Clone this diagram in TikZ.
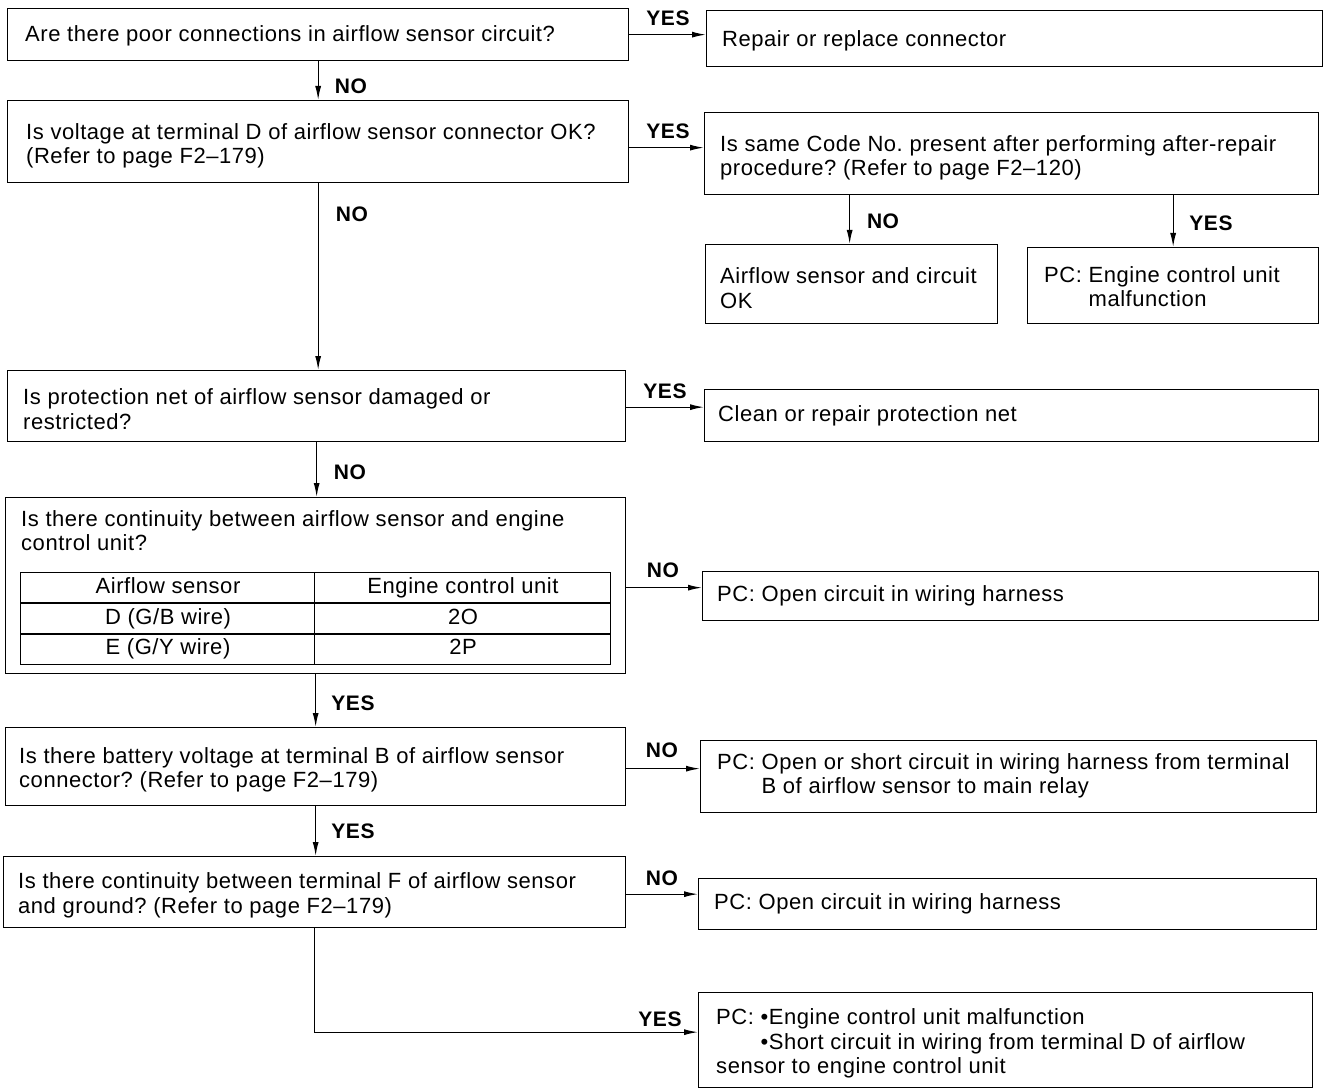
\documentclass[tikz,border=0pt]{standalone}
\usepackage{fontspec}
\setmainfont{Liberation Sans}[LetterSpace=2.5]
\usetikzlibrary{arrows.meta}

\begin{document}
\frenchspacing
\begin{tikzpicture}[x=1pt,y=-1pt,
  box/.style={draw, line width=1.3pt, inner sep=0pt, anchor=north west},
  txt/.style={anchor=west, align=left, inner sep=0pt, font=\fontsize{22}{24.5}\selectfont},
  cell/.style={inner sep=0pt, text height=16pt, text depth=5pt, font=\fontsize{22}{24}\selectfont},
  lab/.style={inner sep=0pt, font=\fontsize{21}{24}\selectfont\bfseries},
  arr/.style={line width=1.3pt, -{Latex[length=14pt,width=6pt]}},
  wire/.style={line width=1.3pt}]

\useasboundingbox (0,0) rectangle (1327,1091);

% ---- left column: questions ----
\node[box, minimum width=621pt, minimum height=52pt] (b1) at (7,8) {};
\node[box, minimum width=621pt, minimum height=82pt] (b2) at (7,100) {};
\node[box, minimum width=618pt, minimum height=71pt] (b3) at (7,370) {};
\node[box, minimum width=620pt, minimum height=176pt] (b4) at (5,497) {};
\node[box, minimum width=620pt, minimum height=78pt] (b5) at (5,727) {};
\node[box, minimum width=622pt, minimum height=71pt] (b6) at (3,856) {};

% ---- right column: actions and results ----
\node[box, minimum width=616pt, minimum height=56pt] (r1) at (706,10) {};
\node[box, minimum width=614pt, minimum height=82pt] (r2) at (704,112) {};
\node[box, minimum width=292pt, minimum height=79pt] (ok) at (705,244) {};
\node[box, minimum width=291pt, minimum height=76pt] (pc1) at (1027,247) {};
\node[box, minimum width=614pt, minimum height=52pt] (r3) at (704,389) {};
\node[box, minimum width=616pt, minimum height=49pt] (r4) at (702,571) {};
\node[box, minimum width=616pt, minimum height=72pt] (r5) at (700,740) {};
\node[box, minimum width=618pt, minimum height=51pt] (r6) at (698,878) {};
\node[box, minimum width=614pt, minimum height=95pt] (r7) at (698,992) {};

% ---- texts ----
\node[txt] (t1) at ([xshift=18pt,yshift=-1pt]b1.west) {Are there poor connections in airflow sensor circuit?};
\node[txt] (t2) at ([xshift=19pt,yshift=-4pt]b2.west) {Is voltage at terminal D of airflow sensor connector OK?\\(Refer to page F2–179)};
\node[txt] (t3) at ([xshift=16pt,yshift=-3pt]b3.west) {Is protection net of airflow sensor damaged or\\restricted?};
\node[txt, anchor=north west] (t4) at ([xshift=16pt,yshift=-13pt]b4.north west) {Is there continuity between airflow sensor and engine\\control unit?};
\node[txt] (t5) at ([xshift=14pt,yshift=-3pt]b5.west) {Is there battery voltage at terminal B of airflow sensor\\connector? (Refer to page F2–179)};
\node[txt] (t6) at ([xshift=15pt,yshift=-3pt]b6.west) {Is there continuity between terminal F of airflow sensor\\and ground? (Refer to page F2–179)};

\node[txt] (tr1) at ([xshift=16pt,yshift=-2pt]r1.west) {Repair or replace connector};
\node[txt] (tr2) at ([xshift=16pt,yshift=-4pt]r2.west) {Is same Code No. present after performing after-repair\\procedure? (Refer to page F2–120)};
\node[txt] (tok) at ([xshift=15pt,yshift=-4pt]ok.west) {Airflow sensor and circuit\\OK};
\node[txt] (tpc1) at ([xshift=17pt,yshift=-4pt]pc1.west) {\begin{tabular}{@{}l@{ }l@{}}PC:&Engine control unit\\&malfunction\end{tabular}};
\node[txt] (tr3) at ([xshift=14pt]r3.west) {Clean or repair protection net};
\node[txt] (tr4) at ([xshift=15pt]r4.west) {PC: Open circuit in wiring harness};
\node[txt] (tr5) at ([xshift=17pt]r5.west) {\begin{tabular}{@{}l@{ }l@{}}PC:&Open or short circuit in wiring harness from terminal\\&B of airflow sensor to main relay\end{tabular}};
\node[txt] (tr6) at ([xshift=16pt]r6.west) {PC: Open circuit in wiring harness};
\node[txt] (tr7) at ([xshift=18pt,yshift=-4pt]r7.west) {\begin{tabular}{@{}l@{ }l@{}}PC:&•Engine control unit malfunction\\&•Short circuit in wiring from terminal D of airflow\\\multicolumn{2}{@{}l@{}}{sensor to engine control unit}\end{tabular}};

% ---- continuity table inside the fourth question ----
\node[draw, line width=1.1pt, inner sep=0pt, anchor=north west, minimum width=590pt, minimum height=92pt] (tab) at (20,572) {};
\draw[line width=1.1pt] ([yshift=-31pt]tab.north west) -- ([yshift=-31pt]tab.north east);
\draw[line width=1.1pt] ([yshift=-62pt]tab.north west) -- ([yshift=-62pt]tab.north east);
\draw[line width=1.1pt] ([xshift=-1pt]tab.north) -- ([xshift=-1pt]tab.south);
\node[cell] (c11) at (168,588) {Airflow sensor};
\node[cell] (c12) at (463,588) {Engine control unit};
\node[cell] (c21) at (168,619) {D (G/B wire)};
\node[cell] (c22) at (463,619) {2O};
\node[cell] (c31) at (168,649) {E (G/Y wire)};
\node[cell] (c32) at (463,649) {2P};

% ---- connectors ----
\draw[arr] (b1.east) -- (b1.east -| r1.west);
\draw[arr] ([yshift=-6pt]b2.east) -- ([yshift=-6pt]b2.east -| r2.west);
\draw[arr] ([yshift=-1pt]b3.east) -- ([yshift=-1pt]b3.east -| r3.west);
\draw[arr] ([yshift=-2pt]b4.east) -- ([yshift=-2pt]b4.east -| r4.west);
\draw[arr] ([yshift=-2pt]b5.east) -- ([yshift=-2pt]b5.east -| r5.west);
\draw[arr] ([yshift=-2pt]b6.east) -- ([yshift=-2pt]b6.east -| r6.west);

\draw[arr] (b1.south) -- (b1.south |- b2.north);
\draw[arr] (b2.south) -- (b2.south |- b3.north);
\draw[arr] (b3.south) -- (b3.south |- b4.north);
\draw[arr] (b4.south) -- (b4.south |- b5.north);
\draw[arr] (b5.south) -- (b5.south |- b6.north);

\draw[arr] ([xshift=-2pt]ok.north |- r2.south) -- ([xshift=-2pt]ok.north);
\draw[arr] (pc1.north |- r2.south) -- (pc1.north);

\coordinate (turn) at ([yshift=8pt]b6.south |- r7.west);
\draw[arr] (b6.south) -- (turn) -- (turn -| r7.west);

% ---- branch labels ----
\node[lab] (y1) at (668,18) {YES};
\node[lab] (n1) at (351,86) {NO};
\node[lab] (y2) at (668,131) {YES};
\node[lab] (n2) at (352,214) {NO};
\node[lab] (n3) at (883,221) {NO};
\node[lab] (y3) at (1211,223) {YES};
\node[lab] (y4) at (665,391) {YES};
\node[lab] (n4) at (350,472) {NO};
\node[lab] (n5) at (663,570) {NO};
\node[lab] (y5) at (353,703) {YES};
\node[lab] (n6) at (662,750) {NO};
\node[lab] (y6) at (353,831) {YES};
\node[lab] (n7) at (662,878) {NO};
\node[lab] (y7) at (660,1019) {YES};
\end{tikzpicture}
\end{document}
